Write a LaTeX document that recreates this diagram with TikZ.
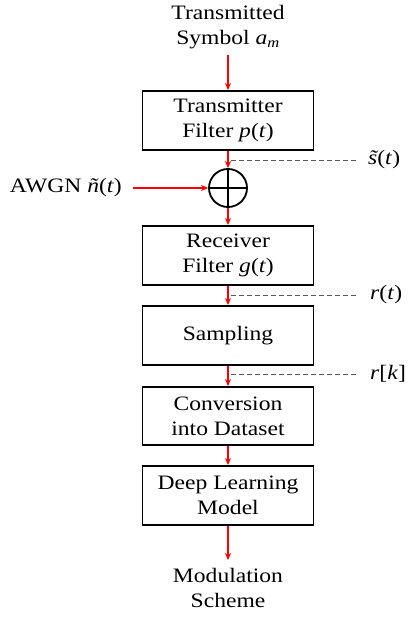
\documentclass[tikz,border=0pt]{standalone}
\usepackage{fontspec}
\setmainfont[FakeStretch=1.15]{Liberation Serif}
\usetikzlibrary{arrows.meta}
\newcommand\tils{\textit{\makebox[0pt][l]{\hspace{0.04em}\char"02DC}s}}
\begin{document}
\begin{tikzpicture}[x=1pt,y=-1pt,
  blk/.style={draw=black,line width=1.8pt,minimum width=171pt,minimum height=59pt,align=center,inner sep=0pt,font=\fontsize{20.5}{25}\selectfont},
  lbl/.style={align=center,inner sep=0pt,font=\fontsize{20.5}{25}\selectfont},
  sig/.style={red,line width=1.4pt,-{Stealth[length=7pt,width=6pt]}},
  tap/.style={gray!70!black,dashed,line width=0.8pt,dash pattern=on 5pt off 3pt}]
\useasboundingbox (0,0) rectangle (407,623);
\node[lbl] (src) at (228,27) {Transmitted\\Symbol \textit{a\textsubscript{m}}};
\node[blk,anchor=north] (tx) at (228,90) {Transmitter\\Filter \textit{p}(\textit{t})};
\node[draw=black,line width=1.8pt,circle,minimum size=38pt,inner sep=0pt] (sum) at (228,188) {};
\draw[line width=1.8pt] (sum.north) -- (sum.south) (sum.west) -- (sum.east);
\node[lbl,anchor=east] (awgn) at (122,188) {AWGN \textit{\~n}(\textit{t})};
\node[blk,anchor=north] (rx) at (228,225) {Receiver\\Filter \textit{g}(\textit{t})};
\node[blk,anchor=north] (smp) at (228,305) {Sampling};
\node[blk,anchor=north,minimum height=58pt] (conv) at (228,386) {Conversion\\into Dataset};
\node[blk,anchor=north] (dl) at (228,465) {Deep Learning\\Model};
\node[lbl,anchor=north] (out) at (228,568) {Modulation\\Scheme};
\draw[sig] ([yshift=-6pt]src.south) -- (tx.north);
\draw[sig] (tx.south) -- (sum.north);
\draw[sig] (awgn.east) ++(11pt,0) coordinate (a0) (a0) -- (sum.west);
\draw[sig] (sum.south) -- (rx.north);
\draw[sig] (rx.south) -- (smp.north);
\draw[sig] (smp.south) -- (conv.north);
\draw[sig] (conv.south) -- (dl.north);
\draw[sig] (dl.south) -- (228,560) coordinate (oin);
\coordinate (t1) at (231,160);
\coordinate (t2) at (231,295);
\coordinate (t3) at (231,374);
\node[lbl,anchor=west] (s1) at (368,160) {\tils(\textit{t})};
\node[lbl,anchor=west] (s2) at (370,295) {\textit{r}(\textit{t})};
\node[lbl,anchor=west] (s3) at (370,374) {\textit{r}[\textit{k}]};
\draw[tap] (t1) -- (358,160);
\draw[tap] (t2) -- (358,295);
\draw[tap] (t3) -- (358,374);
\end{tikzpicture}
\end{document}
